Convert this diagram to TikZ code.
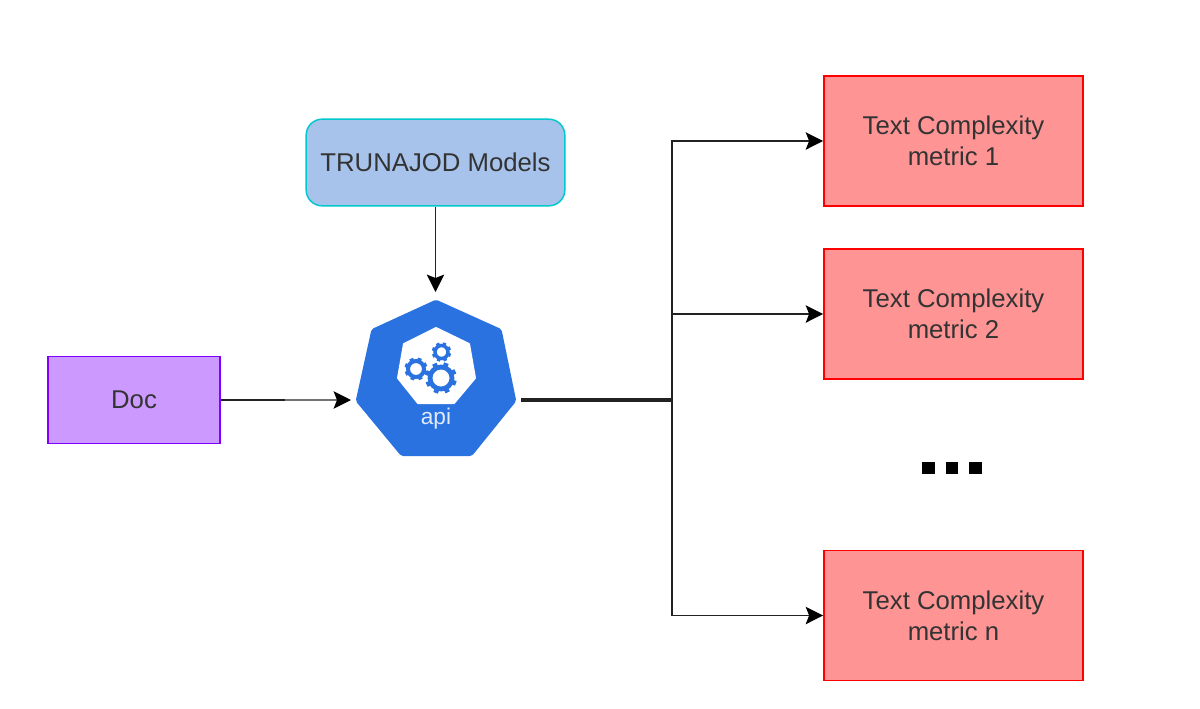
\documentclass[tikz,border=0pt]{standalone}
\usepackage{fontspec}
\setmainfont{Liberation Sans}
\usetikzlibrary{arrows.meta,calc}
\definecolor{txt}{HTML}{333333}
\definecolor{k8s}{HTML}{2A72E0}
\definecolor{wire}{HTML}{222222}
\tikzset{
 x=0.75pt,y=-0.75pt,
 lbl/.style={font=\fontsize{19.3}{23}\selectfont,text=txt,align=center},
 metric/.style={draw=red,line width=1.1pt,fill=red!42!white,minimum width=194.5pt,minimum height=97.5pt,inner sep=0pt,lbl},
 arr/.style={draw=wire,line width=1.4pt,-{Stealth[length=13pt,width=13pt,inset=2.5pt,color=black]}},
}
\newcommand{\mygear}[5]{% x y r-ring teeth-length width
 \begin{scope}[shift={(#1,#2)}]
  \foreach \a in {0,45,...,315}{
   \draw[k8s,line width=#5] (\a+20:#3) -- (\a+20:#3+#4);
  }
  \draw[k8s,line width=#5,fill=white] (0,0) circle (#3);
 \end{scope}}
\begin{document}
\begin{tikzpicture}
\useasboundingbox (0,0) rectangle (1200,708);
\fill[white] (0,0) rectangle (1200,708);
% nodes
\node[draw={rgb,255:red,0;green,200;blue,205},line width=1.1pt,fill={rgb,255:red,168;green,195;blue,235},rounded corners=12pt,minimum width=194pt,minimum height=65pt,inner sep=0pt,lbl] (models) at (435.5,162.5) {TRUNAJOD Models};
\node[draw={rgb,255:red,127;green,0;blue,255},line width=1.1pt,fill={rgb,255:red,204;green,153;blue,255},minimum width=129pt,minimum height=65pt,inner sep=0pt,lbl] (doc) at (134,400) {Doc};
\node[metric] (m1) at (953.5,141) {Text Complexity\\metric 1};
\node[metric] (m2) at (953.5,314) {Text Complexity\\metric 2};
\node[metric] (mn) at (953.5,615.5) {Text Complexity\\metric n};
% api icon
\fill[k8s,draw=k8s,line join=round,line width=6pt] (436,304) -- (498,332) -- (512,400) -- (470,452) -- (403,452) -- (360,400) -- (375,332) -- cycle;
\fill[white,draw=white,line join=round,line width=1.5pt] (436,328) -- (469,344) -- (475,378) -- (454,403) -- (418,403) -- (398,378) -- (404,344) -- cycle;
\mygear{416}{369}{8}{3.5}{3pt}
\mygear{441.5}{352}{6.5}{3.2}{2.6pt}
\mygear{441}{378}{11}{4.8}{3.6pt}
\node[font=\fontsize{17}{20}\selectfont,text=white!85!k8s,inner sep=0pt] (api) at (436,419) {api};
\coordinate (apiin) at (351,400);
\coordinate (apiout) at (521,400);
\coordinate (junction) at (672,400);
\coordinate (apitop) at (435.5,292);
\coordinate (fade) at (285,400);
% connectors
\draw[arr] (models.south) -- (apitop);
\draw[arr,draw=black!55,line width=1.8pt] (fade) -- (apiin);
\draw[draw=wire,line width=1.4pt] (doc.east) -- (fade);
\draw[draw=wire,line width=2.4pt] (apiout) -- (junction);
\draw[arr] (junction) |- (m1.west);
\draw[arr] (junction) |- (m2.west);
\draw[arr] (junction) |- (mn.west);
% dots
\foreach \n/\x in {d1/928.5,d2/952,d3/975.5}{
 \node[fill=black,minimum size=9.5pt,inner sep=0pt] (\n) at (\x,468) {};
}
\end{tikzpicture}
\end{document}
